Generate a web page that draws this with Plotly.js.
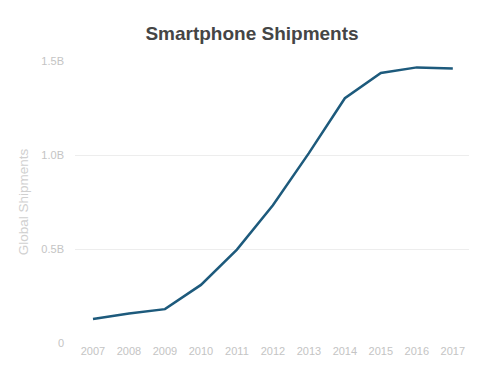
<!DOCTYPE html>
<html>
<head>
<meta charset="utf-8">
<script src="https://cdn.plot.ly/plotly-3.0.1.min.js"></script>
<style>html,body{margin:0;padding:0;background:#fff;}#chart{width:500px;height:375px;}</style>
</head>
<body>
<div id="chart"></div>
<script>
var years = [2007, 2008, 2009, 2010, 2011, 2012, 2013, 2014, 2015, 2016, 2017];
var shipments = [0.128, 0.157, 0.180, 0.309, 0.497, 0.733, 1.010, 1.302, 1.436, 1.466, 1.460];
var yTickVals = [0, 0.5, 1.0, 1.5];
var yTickText = ["0", "0.5B", "1.0B", "1.5B"];

Plotly.newPlot("chart", [{
  x: years,
  y: shipments,
  type: "scatter",
  mode: "lines",
  line: {color: "#1d5a7c", width: 2.5},
  hoverinfo: "skip"
}], {
  width: 500, height: 375,
  margin: {l: 75, r: 31, t: 61, b: 32},
  paper_bgcolor: "#fff", plot_bgcolor: "#fff",
  showlegend: false,
  font: {family: "Liberation Sans, Arial, sans-serif", color: "#c4c4c4", size: 11},
  title: {text: "<b>Smartphone Shipments</b>", x: 0.504, xanchor: "center", y: 0.912, yanchor: "middle",
          font: {size: 19, color: "#454545", family: "Liberation Sans, Arial, sans-serif"}},
  xaxis: {range: [2006.5, 2017.45], tickvals: years, ticktext: years.map(String),
          showgrid: false, zeroline: false, showline: false, ticks: "", tickfont: {size: 11, color: "#c4c4c4"}},
  yaxis: {range: [0, 1.5], tickvals: yTickVals, ticktext: yTickText,
          showgrid: true, gridcolor: "#ededed", gridwidth: 1, zeroline: false, showline: false, ticks: "",
          ticklabelstandoff: 10, tickfont: {size: 11, color: "#c4c4c4"},
          title: {text: "Global Shipments", standoff: 9, font: {size: 13.5, color: "#d0d0d0"}}}
}, {staticPlot: true, displayModeBar: false});
</script>
</body>
</html>
